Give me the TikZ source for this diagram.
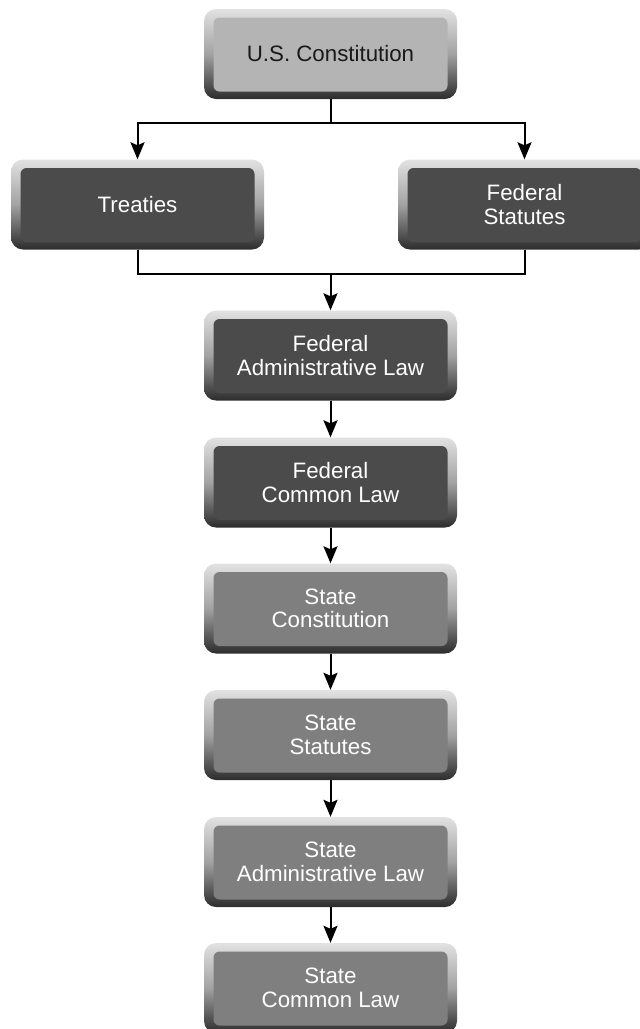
\documentclass[tikz,border=0pt]{standalone}
\usepackage{fontspec}
\setmainfont{Liberation Sans}
\usetikzlibrary{arrows.meta,calc}
\definecolor{bevtop}{HTML}{E2E2E2}
\definecolor{bevmid}{HTML}{A2A2A2}
\definecolor{bevbot}{HTML}{2C2C2C}
\definecolor{consface}{HTML}{B4B4B4}
\definecolor{fedface}{HTML}{4B4B4B}
\definecolor{stateface}{HTML}{7F7F7F}
\tikzset{
  lawbox/.style={rounded corners=12pt, minimum width=253pt, minimum height=90pt,
    inner sep=0pt, align=center, font=\fontsize{22.3}{23.5}\selectfont,
    top color=bevtop, bottom color=bevbot, middle color=bevmid,
    path picture={\fill[#1, rounded corners=6pt]
      ([xshift=9.5pt,yshift=-8.5pt]path picture bounding box.north west) rectangle
      ([xshift=-9.5pt,yshift=7.5pt]path picture bounding box.south east);}},
  consbox/.style={lawbox=consface, text=black!90},
  fedbox/.style={lawbox=fedface, text=white},
  statebox/.style={lawbox=stateface, text=white},
  conn/.style={line width=2pt, black},
  arr/.style={conn, -{Stealth[length=17pt,width=14pt,inset=3pt]}}
}
\begin{document}
\begin{tikzpicture}[x=1pt,y=-1pt]
\useasboundingbox (0,0) rectangle (640,1029);
\clip (0,0) rectangle (640,1029);
\node[consbox]  (cons)      at (330.5,54)  {U.S. Constitution};
\node[fedbox]   (treaties)  at (137.5,204.5) {Treaties};
\node[fedbox]   (fedstat)   at (524.5,204.5) {Federal\\Statutes};
\node[fedbox]   (fedadmin)  at (330.5,355.5) {Federal\\Administrative Law};
\node[fedbox]   (fedcommon) at (330.5,482.5) {Federal\\Common Law};
\node[statebox] (statecons) at (330.5,608.5) {State\\Constitution};
\node[statebox] (statestat) at (330.5,735)   {State\\Statutes};
\node[statebox] (stateadmin) at (330.5,862)  {State\\Administrative Law};
\node[statebox] (statecommon) at (330.5,988) {State\\Common Law};
\coordinate (j1) at (330.5,123);
\coordinate (j2) at (330.5,274);
\draw[conn] (cons.south) -- (j1);
\draw[arr] (j1) -| (treaties.north);
\draw[arr] (j1) -| (fedstat.north);
\draw[conn] (treaties.south) |- (j2);
\draw[conn] (fedstat.south) |- (j2);
\draw[arr] (j2) -- (fedadmin.north);
\draw[arr] (fedadmin.south) -- (fedcommon.north);
\draw[arr] (fedcommon.south) -- (statecons.north);
\draw[arr] (statecons.south) -- (statestat.north);
\draw[arr] (statestat.south) -- (stateadmin.north);
\draw[arr] (stateadmin.south) -- (statecommon.north);
\end{tikzpicture}
\end{document}
